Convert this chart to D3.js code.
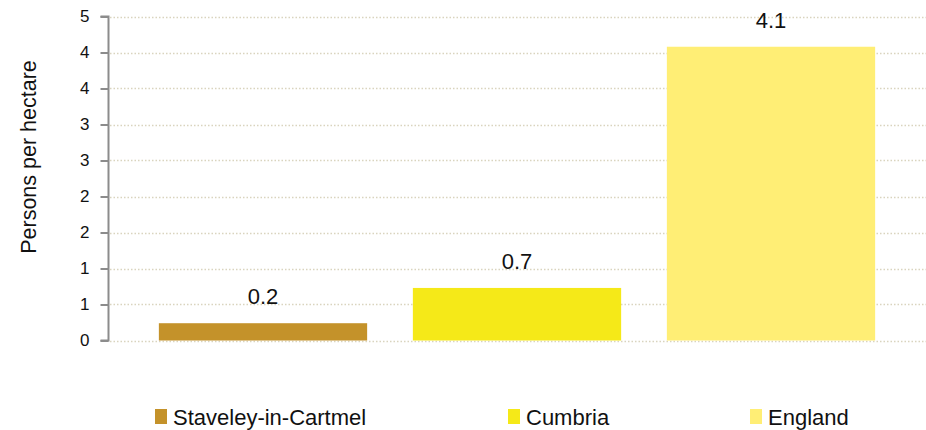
<!DOCTYPE html>
<html><head><meta charset="utf-8">
<script src="https://cdn.jsdelivr.net/npm/d3@7"></script>
<style>body{margin:0;background:#fff}svg{display:block;font-family:"Liberation Sans",Arial,sans-serif}</style>
</head><body><svg id="c" width="926" height="430"></svg>
<script>
const categories = ["Staveley-in-Cartmel","Cumbria","England"];
const values = [0.24, 0.73, 4.08];
const colors = ["#C4922A","#F5E918","#FFEE75"];
const tickValues = [0,0.5,1,1.5,2,2.5,3,3.5,4,4.5];
const tickLabels = ["0","1","1","2","2","3","3","4","4","5"];
const yTitle = "Persons per hectare";

const svg = d3.select("#c");
const y = d3.scaleLinear().domain([0,4.5]).range([340.5,16.5]);
const x = d3.scaleBand().domain(categories).range([136,898]).paddingInner(0.18).paddingOuter(0.09);

// gridlines
svg.append("g").selectAll("line").data(tickValues).join("line")
  .attr("x1",110).attr("x2",926)
  .attr("y1",d=>Math.round(y(d))+0.5).attr("y2",d=>Math.round(y(d))+0.5)
  .attr("stroke","#D9D4BE").attr("stroke-width",1.5).attr("stroke-dasharray","1.5,2");

// axis
const axis = d3.axisLeft(y).tickValues(tickValues).tickSize(8).tickPadding(11)
  .tickFormat((d,i)=>tickLabels[i]);
const ag = svg.append("g").attr("transform","translate(108.5,0)").call(axis);
ag.select(".domain").attr("stroke","#8c8c8c").attr("stroke-width",2).attr("d","M-8,16.5H0V340.5H-8");
ag.selectAll(".tick line").attr("stroke","#8c8c8c").attr("stroke-width",2);
ag.selectAll(".tick text").attr("font-size",17).attr("fill","#111").attr("font-family","Liberation Sans, Arial, sans-serif");

// bars
svg.append("g").selectAll("rect").data(categories).join("rect")
  .attr("x",d=>x(d)).attr("width",x.bandwidth())
  .attr("y",(d,i)=>y(values[i])).attr("height",(d,i)=>y(0)-y(values[i]))
  .attr("fill",(d,i)=>colors[i]);

// labels
svg.append("g").selectAll("text").data(categories).join("text")
  .attr("x",d=>x(d)+x.bandwidth()/2).attr("y",(d,i)=>y(values[i])-19)
  .attr("text-anchor","middle").attr("font-size",22).attr("fill","#111")
  .text((d,i)=>d3.format(".1f")(values[i]));

// y title
svg.append("text").attr("transform","translate(36,157) rotate(-90)")
  .attr("text-anchor","middle").attr("font-size",21.5).attr("fill","#111").text(yTitle);

// legend
const legX = [155,508,750];
const lg = svg.append("g").selectAll("g").data(categories).join("g")
  .attr("transform",(d,i)=>`translate(${legX[i]},409)`);
lg.append("rect").attr("width",12).attr("height",15).attr("fill",(d,i)=>colors[i]);
lg.append("text").attr("x",18).attr("y",15.5).attr("font-size",22).attr("fill","#111").text(d=>d);
</script></body></html>
